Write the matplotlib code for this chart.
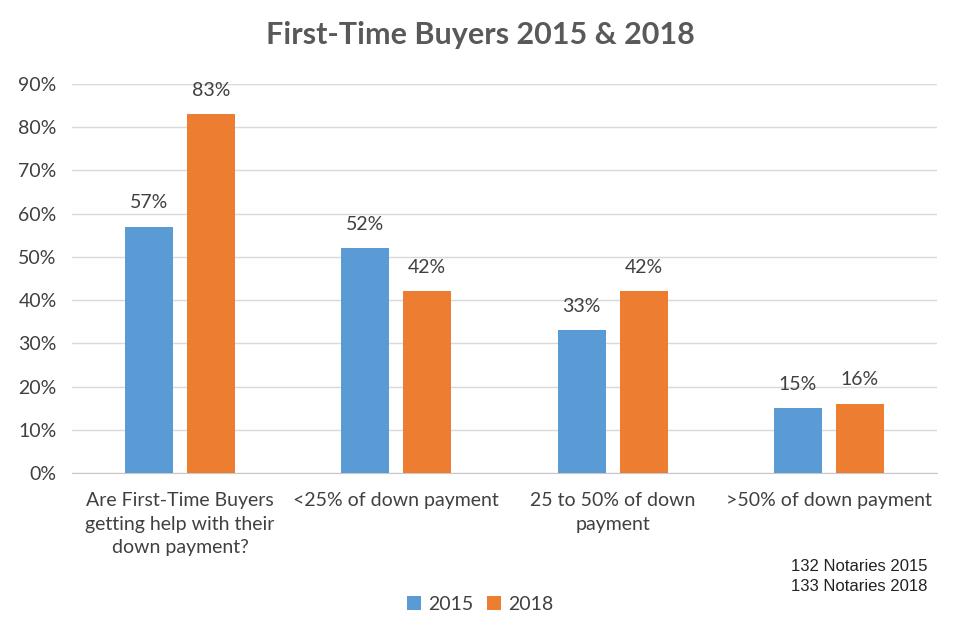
import matplotlib
matplotlib.use("Agg")
import matplotlib.pyplot as plt
import numpy as np

categories = ["Are First-Time Buyers\ngetting help with their\ndown payment?",
              "<25% of down payment",
              "25 to 50% of down\npayment",
              ">50% of down payment"]
vals_2015 = [57, 52, 33, 15]
vals_2018 = [83, 42, 42, 16]
yticks = [0, 10, 20, 30, 40, 50, 60, 70, 80, 90]

blue = "#5b9bd5"
orange = "#ed7d31"
txt = "#404040"
font = "Lato"

fig = plt.figure(figsize=(9.6, 6.34), dpi=100)
ax = fig.add_axes([0.075, 0.254, 0.901, 0.6135])
x = np.arange(len(categories))
w = 0.222
off = 0.143
b1 = ax.bar(x - off, vals_2015, w, color=blue, label="2015", zorder=3)
b2 = ax.bar(x + off, vals_2018, w, color=orange, label="2018", zorder=3)
for bars, vals in ((b1, vals_2015), (b2, vals_2018)):
    for r, v in zip(bars, vals):
        ax.text(r.get_x() + r.get_width() / 2, v + 3.6, f"{v}%", ha="center", va="bottom",
                fontsize=14, color=txt, family=font)

ax.set_xlim(-0.5, 3.5)
ax.set_ylim(0, 90)
ax.set_yticks(yticks)
ax.set_yticklabels([f"{t}%" for t in yticks], family=font, fontsize=14, color=txt)
ax.set_xticks(x)
ax.set_xticklabels(categories, family=font, fontsize=14, color=txt, linespacing=1.45)
ax.tick_params(axis="both", length=0)
ax.tick_params(axis="y", pad=11)
ax.tick_params(axis="x", pad=14)
ax.grid(axis="y", color="#d9d9d9", linewidth=1, zorder=0)
for s in ["top", "right", "left"]:
    ax.spines[s].set_visible(False)
ax.spines["bottom"].set_color("#c8c8c8")

fig.text(0.5, 0.945, "First-Time Buyers 2015 & 2018", ha="center", va="center",
         fontsize=22, fontweight="bold", color="#595959", family=font)
leg = fig.legend(handles=[b1, b2], loc="center", bbox_to_anchor=(0.5, 0.047), ncol=2,
                 frameon=False, prop={"family": font, "size": 14}, handlelength=0.75,
                 handleheight=0.75, handletextpad=0.35, columnspacing=0.7)
for t in leg.get_texts():
    t.set_color(txt)
fig.text(0.966, 0.091, "132 Notaries 2015\n133 Notaries 2018", ha="right", va="center",
         fontsize=12, color="#222222", family="Liberation Sans", linespacing=1.4)
fig.savefig("out.png", dpi=100)
